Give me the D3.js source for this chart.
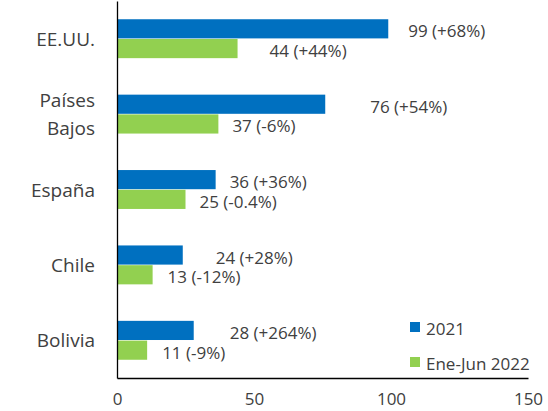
<!DOCTYPE html>
<html>
<head>
<meta charset="utf-8">
<script src="https://cdn.jsdelivr.net/npm/d3@7"></script>
<style>
  body { margin: 0; background: #fff; }
  svg { display: block; font-family: "Open Sans", sans-serif; }
</style>
</head>
<body>
<div id="chart"></div>
<script>
// data
var countries = ["EE.UU.", "Países Bajos", "España", "Chile", "Bolivia"];
var seriesNames = ["2021", "Ene-Jun 2022"];
var values2021 = [99, 76, 36, 24, 28];
var values2022 = [44, 37, 25, 13, 11];
var growth2021 = ["+68%", "+54%", "+36%", "+28%", "+264%"];
var growth2022 = ["+44%", "-6%", "-0.4%", "-12%", "-9%"];
var xTicks = [0, 50, 100, 150];

// label nudges in px (hand placed in the original)
var nudge2021 = [20, 45, 14, 33, 36];
var nudge2022 = [32, 14, 14, 15, 15];

var width = 548,
    height = 411,
    textColor = "#404040",
    colors = ["#0070C0", "#92D050"];

var svg = d3.select("#chart").append("svg")
    .attr("width", width)
    .attr("height", height);

var x = d3.scaleLinear().domain([0, 150]).range([117, 528]);

var y = d3.scaleBand()
    .domain(countries)
    .range([1, 378])
    .paddingInner(0.484)
    .paddingOuter(0.242);

var ySub = d3.scaleBand()
    .domain(seriesNames)
    .range([0, y.bandwidth()])
    .paddingInner(0.03);

var rows = countries.map(function(c, i) {
    return {
        country: c,
        vals: [
            { s: seriesNames[0], v: values2021[i], g: growth2021[i], n: nudge2021[i] },
            { s: seriesNames[1], v: values2022[i], g: growth2022[i], n: nudge2022[i] }
        ]
    };
});

var groups = svg.selectAll(".grp").data(rows).enter()
    .append("g")
    .attr("class", "grp")
    .attr("transform", function(d) { return "translate(0," + y(d.country) + ")"; });

groups.selectAll("rect").data(function(d) { return d.vals; }).enter()
    .append("rect")
    .attr("x", x(0))
    .attr("y", function(d) { return ySub(d.s); })
    .attr("width", function(d) { return x(d.v) - x(0); })
    .attr("height", ySub.bandwidth())
    .attr("fill", function(d, i) { return colors[i]; });

groups.selectAll("text.lbl").data(function(d) { return d.vals; }).enter()
    .append("text")
    .attr("class", "lbl")
    .attr("x", function(d) { return x(d.v) + d.n; })
    .attr("y", function(d) { return ySub(d.s) + ySub.bandwidth() / 2 + 2; })
    .attr("dominant-baseline", "central")
    .style("font-size", "17px")
    .style("fill", textColor)
    .text(function(d) { return d.v + " (" + d.g + ")"; });

// y axis
var yAxis = svg.append("g")
    .attr("transform", "translate(" + x(0) + ",0)")
    .call(d3.axisLeft(y).tickSize(0).tickFormat(""));
yAxis.select(".domain").attr("stroke", "#000").attr("stroke-width", 1.3);

// category labels, "Países Bajos" on two lines
svg.selectAll(".cat").data(countries).enter()
    .append("text")
    .attr("class", "cat")
    .attr("text-anchor", "end")
    .style("font-size", "19px")
    .style("fill", textColor)
    .each(function(c) {
        var words = c === "Países Bajos" ? ["Países", "Bajos"] : [c];
        var cy = y(c) + y.bandwidth() / 2;
        var t = d3.select(this);
        words.forEach(function(w, k) {
            t.append("tspan")
                .attr("x", 95)
                .attr("y", cy + (k - (words.length - 1) / 2) * 28)
                .attr("dominant-baseline", "central")
                .text(w);
        });
    });

// x axis
var xAxis = svg.append("g")
    .attr("transform", "translate(0,378)")
    .call(d3.axisBottom(x).tickValues(xTicks).tickSize(0).tickPadding(15));
xAxis.select(".domain").attr("stroke", "#000").attr("stroke-width", 1.3);
xAxis.selectAll("text")
    .style("font-size", "17px")
    .style("font-family", "'Open Sans', sans-serif")
    .style("fill", textColor);

// legend
var legend = svg.append("g").attr("transform", "translate(410,322)");
var li = legend.selectAll("g").data(seriesNames).enter()
    .append("g")
    .attr("transform", function(d, i) { return "translate(0," + i * 35 + ")"; });
li.append("rect")
    .attr("width", 10)
    .attr("height", 10)
    .attr("fill", function(d, i) { return colors[i]; });
li.append("text")
    .attr("x", 16)
    .attr("y", 6)
    .attr("dominant-baseline", "central")
    .style("font-size", "17px")
    .style("fill", textColor)
    .text(function(d) { return d; });
</script>
</body>
</html>
